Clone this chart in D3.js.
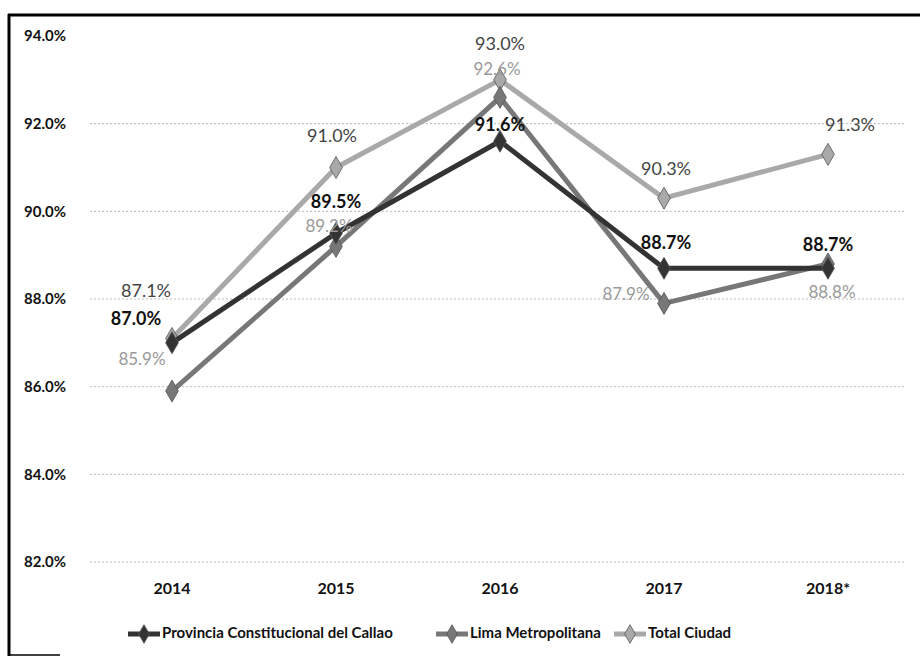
<!DOCTYPE html>
<html><head><meta charset="utf-8">
<script src="https://cdn.jsdelivr.net/npm/d3@7"></script>
<style>body{margin:0;background:#fff}svg{display:block}</style>
</head><body>
<svg id="c" width="920" height="662"></svg>
<script>
const years = ["2014","2015","2016","2017","2018*"];
const callao = [87.0, 89.5, 91.6, 88.7, 88.7];
const lima = [85.9, 89.2, 92.6, 87.9, 88.8];
const total = [87.1, 91.0, 93.0, 90.3, 91.3];
const yTicks = [82, 84, 86, 88, 90, 92, 94];
const seriesNames = ["Provincia Constitucional del Callao", "Lima Metropolitana", "Total Ciudad"];

const svg = d3.select("#c");
const font = "Lato, 'Open Sans', sans-serif";
const x = d3.scaleBand().domain(years).range([90, 910]);
const cx = d => x(d) + x.bandwidth() / 2;
const y = d3.scaleLinear().domain([82, 94]).range([562, 36]);

// frame
svg.append("line").attr("x1", 9).attr("x2", 9).attr("y1", 14).attr("y2", 656).attr("stroke", "#000").attr("stroke-width", 3);
svg.append("line").attr("x1", 8).attr("x2", 920).attr("y1", 15).attr("y2", 15).attr("stroke", "#000").attr("stroke-width", 3);
svg.append("line").attr("x1", 8).attr("x2", 60).attr("y1", 655).attr("y2", 655).attr("stroke", "#000").attr("stroke-width", 1.5);

// y axis
const yAxis = d3.axisLeft(y).tickValues(yTicks).tickFormat(d => d3.format(".1f")(d) + "%").tickSize(0);
const ga = svg.append("g").attr("transform", "translate(69,0)").call(yAxis);
ga.select(".domain").remove();
ga.selectAll("text").attr("font-family", font).attr("font-weight", "bold").attr("font-size", 15).attr("fill", "#111").attr("dx", 0);

// gridlines
svg.append("g").selectAll("line").data(yTicks.filter(t => t < 94)).join("line")
  .attr("x1", 90).attr("x2", 905).attr("y1", d => y(d)).attr("y2", d => y(d))
  .attr("stroke", "#bbb").attr("stroke-width", 1).attr("stroke-dasharray", "2,2");

// x axis
const xAxis = d3.axisBottom(x).tickSize(0);
const gx = svg.append("g").attr("transform", "translate(0,580)").call(xAxis);
gx.select(".domain").remove();
gx.selectAll("text").attr("font-family", font).attr("font-weight", "bold").attr("font-size", 16).attr("fill", "#111");

const series = [
  {name: seriesNames[2], vals: total, color: "#a9a9a9", label: "#444", bold: false, size: 18,
   off: [[-26,-46],[-4,-30],[0,-34],[2,-28],[22,-28]]},
  {name: seriesNames[1], vals: lima, color: "#777", label: "#999", bold: false, size: 17,
   off: [[-30,-30],[-7,-19],[-3,-27],[-38,-8],[4,30]]},
  {name: seriesNames[0], vals: callao, color: "#333", label: "#111", bold: true, size: 18,
   off: [[-36,-22],[0,-30],[0,-15],[2,-24],[0,-22]]}
];

const line = d3.line().x(d => cx(d[0])).y(d => y(d[1]));
const diamond = d3.symbol().type(d3.symbolDiamond).size(140);

series.forEach(s => {
  const pts = years.map((yr, i) => [yr, s.vals[i]]);
  svg.append("path").datum(pts).attr("d", line).attr("fill", "none")
    .attr("stroke", s.color).attr("stroke-width", 5).attr("stroke-linejoin", "round");
  svg.append("g").selectAll("path").data(pts).join("path")
    .attr("d", diamond).attr("transform", d => `translate(${cx(d[0])},${y(d[1])})`)
    .attr("fill", s.color).attr("stroke", "#555").attr("stroke-width", 0.8);
});
series.forEach(s => {
  const pts = years.map((yr, i) => [yr, s.vals[i], i]);
  svg.append("g").selectAll("text").data(pts).join("text")
    .attr("x", d => cx(d[0]) + s.off[d[2]][0]).attr("y", d => y(d[1]) + s.off[d[2]][1])
    .attr("text-anchor", "middle").attr("dominant-baseline", "middle")
    .attr("font-family", font).attr("font-size", s.size).attr("font-weight", s.bold ? "bold" : "normal")
    .attr("fill", s.label).text(d => d3.format(".1f")(d[1]) + "%");
});

// legend
const legend = [
  {name: seriesNames[0], color: "#333", x: 128},
  {name: seriesNames[1], color: "#777", x: 436},
  {name: seriesNames[2], color: "#a9a9a9", x: 614}
];
const lg = svg.append("g").selectAll("g").data(legend).join("g").attr("transform", d => `translate(${d.x},634)`);
lg.append("line").attr("x1", 0).attr("x2", 32).attr("stroke", d => d.color).attr("stroke-width", 5);
lg.append("path").attr("d", d3.symbol().type(d3.symbolDiamond).size(100)).attr("transform", "translate(16,0)")
  .attr("fill", d => d.color).attr("stroke", "#555").attr("stroke-width", 0.8);
lg.append("text").attr("x", 34).attr("dominant-baseline", "middle").attr("font-family", font)
  .attr("font-weight", "bold").attr("font-size", 15).attr("fill", "#111").text(d => d.name);
</script>
</body></html>
